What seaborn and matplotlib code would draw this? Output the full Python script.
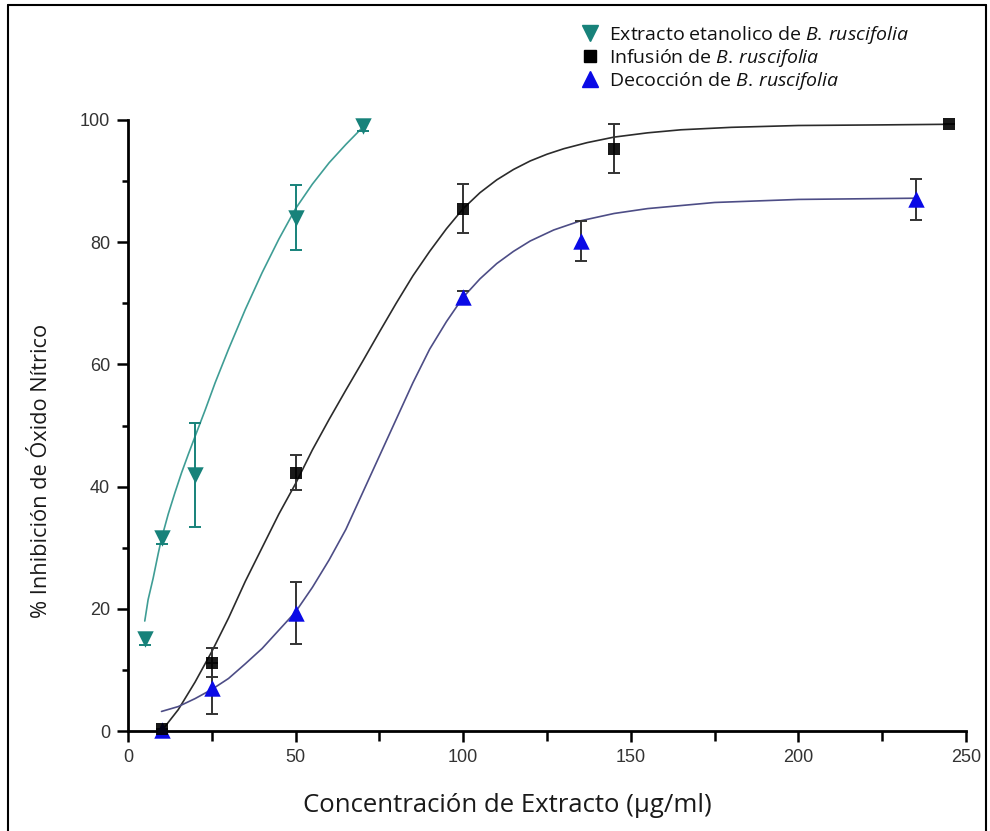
import matplotlib
matplotlib.use("Agg")
import matplotlib.pyplot as plt
import seaborn as sns
from matplotlib.ticker import MultipleLocator
from matplotlib.lines import Line2D

# ---------------- data ----------------
ext_x = [5, 10, 20, 50, 70]
ext_y = [15.0, 31.6, 41.9, 84.0, 99.0]
ext_err = [1.0, 1.0, 8.5, 5.3, 0.8]

inf_x = [10, 25, 50, 100, 145, 245]
inf_y = [0.3, 11.2, 42.3, 85.5, 95.3, 99.3]
inf_err = [0.0, 2.4, 2.9, 4.0, 4.0, 0.0]

dec_x = [10, 25, 50, 100, 135, 235]
dec_y = [0.2, 7.0, 19.3, 71.0, 80.2, 87.0]
dec_err = [0.0, 4.2, 5.1, 1.0, 3.3, 3.3]

# fitted curves, points
ext_fit_x = [5, 6, 7.5, 9, 10, 12, 14, 16, 18, 20, 23, 26, 30, 35, 40, 45, 50, 55, 60, 65, 70]
ext_fit_y = [18, 21.5, 25, 29, 31.5, 35.5, 39, 42.3, 45.3, 48.2, 52.5, 57, 62.5, 69, 75,
             80.5, 85.5, 89.5, 93, 96, 98.8]

inf_fit_x = [10, 15, 20, 25, 30, 35, 40, 45, 50, 55, 60, 65, 70, 75, 80, 85, 90, 95,
             100, 105, 110, 115, 120, 125, 130, 137, 145, 155, 165, 180, 200, 225, 245]
inf_fit_y = [0, 3.5, 8, 13, 18.5, 24.5, 30, 35.5, 40.5, 46, 51, 55.8, 60.5, 65.3, 70, 74.5,
             78.5, 82.2, 85.5, 88.1, 90.2, 91.9, 93.3, 94.4, 95.3, 96.3, 97.2, 97.9, 98.4,
             98.8, 99.1, 99.2, 99.3]

dec_fit_x = [10, 15, 20, 25, 30, 35, 40, 45, 50, 55, 60, 65, 70, 75, 80, 85, 90, 95,
             100, 105, 110, 115, 120, 127, 135, 145, 155, 175, 200, 235]
dec_fit_y = [3.2, 4.0, 5.3, 6.8, 8.6, 11, 13.5, 16.5, 19.5, 23.5, 28, 33, 39, 45, 51, 57,
             62.5, 67, 71, 74, 76.5, 78.5, 80.2, 82, 83.5, 84.7, 85.5, 86.5, 87, 87.2]

labels = ["Extracto etanolico de $\\it{B.\\,ruscifolia}$",
          "Infusión de $\\it{B.\\,ruscifolia}$",
          "Decocción de $\\it{B.\\,ruscifolia}$"]

# ---------------- style ----------------
sns.set_theme(style="white")
plt.rcParams["font.family"] = ["Open Sans", "DejaVu Sans"]
plt.rcParams["mathtext.fontset"] = "custom"
plt.rcParams["mathtext.it"] = "Open Sans:italic"
plt.rcParams["mathtext.rm"] = "Open Sans"

teal = "#17827a"
teal_line = "#3f9d95"
black = "#000000"
black_line = "#2b2b2b"
blue = "#0a0ae6"
blue_line = "#4d4d86"
err_c = "#333333"

fig = plt.figure(figsize=(9.9, 8.31), dpi=100)
ax = fig.add_axes([128 / 990, 1 - 731 / 831, (966 - 128) / 990, (731 - 120) / 831])

# curves
for fx, fy, c in [(ext_fit_x, ext_fit_y, teal_line),
                  (inf_fit_x, inf_fit_y, black_line),
                  (dec_fit_x, dec_fit_y, blue_line)]:
    sns.lineplot(x=fx, y=fy, ax=ax, color=c, linewidth=1.2, sort=False,
                 estimator=None, clip_on=False, legend=False)

# error bars
for xs, ys, es, c in [(ext_x, ext_y, ext_err, teal),
                      (inf_x, inf_y, inf_err, err_c),
                      (dec_x, dec_y, dec_err, err_c)]:
    ax.errorbar(xs, ys, yerr=es, fmt="none", ecolor=c, elinewidth=1.4,
                capsize=4.5, capthick=1.4, clip_on=False, zorder=3)

# markers
sns.scatterplot(x=dec_x, y=dec_y, ax=ax, marker="^", s=140, color=blue,
                edgecolor=blue, linewidth=0, clip_on=False, zorder=4)
sns.scatterplot(x=inf_x, y=inf_y, ax=ax, marker="s", s=75, color=black,
                edgecolor=black, linewidth=0, clip_on=False, zorder=5, alpha=0.9)
sns.scatterplot(x=ext_x, y=ext_y, ax=ax, marker="v", s=140, color=teal,
                edgecolor=teal, linewidth=0, clip_on=False, zorder=5)

ax.set_xlim(0, 250)
ax.set_ylim(0, 100)
ax.xaxis.set_major_locator(MultipleLocator(50))
ax.xaxis.set_minor_locator(MultipleLocator(25))
ax.yaxis.set_major_locator(MultipleLocator(20))
ax.yaxis.set_minor_locator(MultipleLocator(10))
ax.tick_params(axis="both", which="major", direction="out", length=8, width=1.8,
               color="black", labelsize=13, labelcolor="#333333", pad=5,
               bottom=True, left=True)
ax.tick_params(axis="x", which="minor", direction="out", length=7, width=1.8,
               color="black", bottom=True)
ax.tick_params(axis="y", which="minor", direction="out", length=4, width=1.8,
               color="black", left=True)
for lab in ax.get_xticklabels() + ax.get_yticklabels():
    lab.set_fontfamily(["Liberation Sans", "DejaVu Sans"])

sns.despine(ax=ax)
for sp in ["left", "bottom"]:
    ax.spines[sp].set_linewidth(2.0)
    ax.spines[sp].set_color("black")

ax.set_xlabel("Concentración de Extracto (µg/ml)", fontsize=18.5, color="#1a1a1a")
ax.set_ylabel("% Inhibición de Óxido Nítrico", fontsize=15.7, color="#1a1a1a")
ax.xaxis.set_label_coords((507 - 128) / 838, -(806 - 731) / 611)
ax.xaxis.label.set_va("center")
ax.yaxis.set_label_coords(-(128 - 42) / 838, (731 - 471) / 611)
ax.yaxis.label.set_va("center")

# legend
handles = [Line2D([], [], linestyle="none", marker="v", markersize=11, color=teal),
           Line2D([], [], linestyle="none", marker="s", markersize=8, color=black),
           Line2D([], [], linestyle="none", marker="^", markersize=11, color=blue)]
leg = ax.legend(handles, labels, loc="upper left", bbox_to_anchor=(571 / 990, 1 - 14 / 831),
                bbox_transform=fig.transFigure, frameon=False, fontsize=14,
                handlelength=1.0, handletextpad=0.45, labelspacing=0.05, borderpad=0)
for t in leg.get_texts():
    t.set_color("#111111")

# outer frame of the image
fig.add_artist(Line2D([8 / 990, 8 / 990], [0, 1 - 5 / 831], transform=fig.transFigure,
                      color="black", linewidth=1.5))
fig.add_artist(Line2D([8 / 990, 986 / 990], [1 - 5 / 831, 1 - 5 / 831],
                      transform=fig.transFigure, color="black", linewidth=1.5))
fig.add_artist(Line2D([986 / 990, 986 / 990], [0, 1 - 5 / 831], transform=fig.transFigure,
                      color="black", linewidth=1.5))

fig.savefig("out.png", dpi=100)
